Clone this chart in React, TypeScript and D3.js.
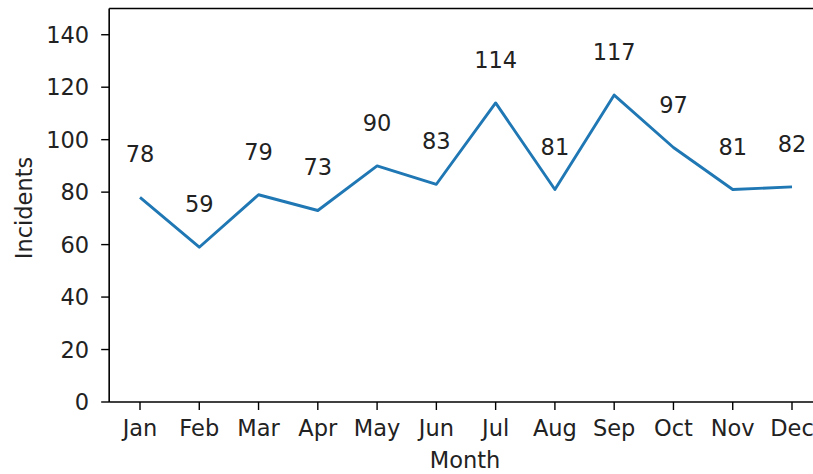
import React from "react";
import * as d3 from "d3";

const months = ["Jan", "Feb", "Mar", "Apr", "May", "Jun", "Jul", "Aug", "Sep", "Oct", "Nov", "Dec"];
const incidents = [78, 59, 79, 73, 90, 83, 114, 81, 117, 97, 81, 82];
const yTicks = [0, 20, 40, 60, 80, 100, 120, 140];

const W = 813;
const H = 474;
const FONT = "'DejaVu Sans', sans-serif";
const FS = 22.5;

export default function App() {
  const x = d3.scaleLinear().domain([0, 11]).range([140, 792]);
  const y = d3.scaleLinear().domain([0, 150]).range([402, 8.5]);
  const left = x(-0.52);
  const right = x(11.55);
  const line = d3
    .line<number>()
    .x((_, i) => x(i))
    .y((d) => y(d));

  return (
    <svg
      width={W}
      height={H}
      style={{ position: "absolute", left: 0, top: 0, background: "#fff" }}
      fontFamily={FONT}
    >
      <rect x={0} y={0} width={W} height={H} fill="#fff" />
      <path d={line(incidents) || ""} fill="none" stroke="#1f77b4" strokeWidth={2.9} strokeLinejoin="round" />
      {incidents.map((v, i) => (
        <text key={i} x={x(i)} y={y(v) - 35} textAnchor="middle" fontSize={FS} fill="#222">
          {v}
        </text>
      ))}
      {/* spines */}
      <line x1={left} x2={left} y1={y(150)} y2={y(0)} stroke="#000" strokeWidth={1.6} />
      <line x1={left} x2={right} y1={y(0)} y2={y(0)} stroke="#000" strokeWidth={1.6} />
      <line x1={left} x2={right} y1={y(150)} y2={y(150)} stroke="#000" strokeWidth={1.6} />
      {/* y ticks */}
      {yTicks.map((t) => (
        <g key={t}>
          <line x1={left - 8} x2={left} y1={y(t)} y2={y(t)} stroke="#000" strokeWidth={1.4} />
          <text x={left - 20} y={y(t) + 8.2} textAnchor="end" fontSize={FS} fill="#222">
            {t}
          </text>
        </g>
      ))}
      {/* x ticks */}
      {months.map((m, i) => (
        <g key={m}>
          <line x1={x(i)} x2={x(i)} y1={y(0)} y2={y(0) + 8} stroke="#000" strokeWidth={1.4} />
          <text x={x(i)} y={436} textAnchor="middle" fontSize={FS} fill="#222">
            {m}
          </text>
        </g>
      ))}
      <text x={465} y={468} textAnchor="middle" fontSize={FS} fill="#222">
        Month
      </text>
      <text
        transform={`translate(32, 208) rotate(-90)`}
        textAnchor="middle"
        fontSize={FS}
        fill="#222"
      >
        Incidents
      </text>
    </svg>
  );
}
